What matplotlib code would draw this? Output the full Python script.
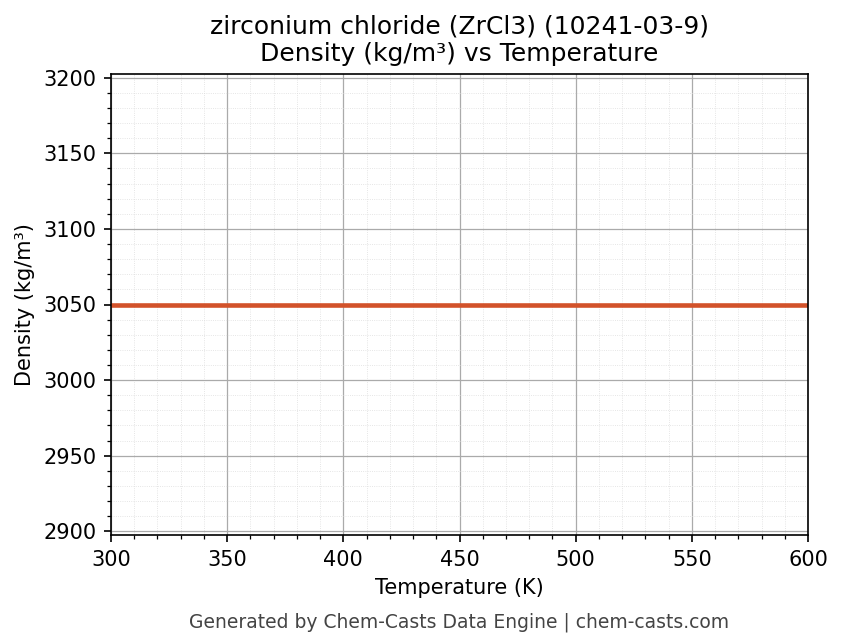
import numpy as np
import matplotlib.pyplot as plt
from matplotlib.ticker import AutoMinorLocator

temperature = [300, 600]
density = [3050, 3050]

fig = plt.figure(figsize=(843 / 150, 644 / 150), dpi=150)
ax = fig.add_axes([111 / 843, 1 - 535 / 644, 697 / 843, 461 / 644])
ax.plot(temperature, density, color='#d2522a', linewidth=2.2)
ax.set_xlim(300, 600)
ax.set_ylim(3050 * 0.95, 3050 * 1.05)
ax.xaxis.set_minor_locator(AutoMinorLocator())
ax.yaxis.set_minor_locator(AutoMinorLocator())
ax.grid(which='major', color='#aaaaaa', linewidth=0.6)
ax.grid(which='minor', color='#dddddd', linewidth=0.4, linestyle=':')
ax.set_xlabel('Temperature (K)')
ax.set_ylabel('Density (kg/m³)')
ax.set_title('zirconium chloride (ZrCl3) (10241-03-9)\nDensity (kg/m³) vs Temperature', fontsize=12)
fig.text(0.545, 0.025, 'Generated by Chem-Casts Data Engine | chem-casts.com',
         ha='center', fontsize=9, color='#444444')
fig.savefig('out.png', dpi=150)
